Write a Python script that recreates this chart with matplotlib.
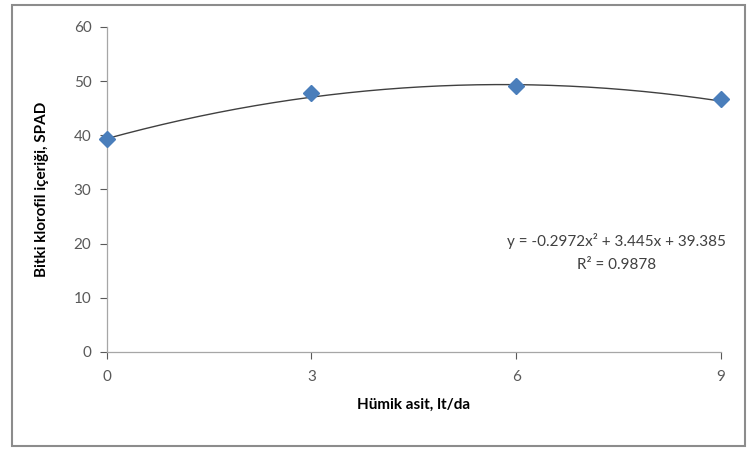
import numpy as np
import matplotlib
matplotlib.use("Agg")
import matplotlib.pyplot as plt
from matplotlib.patches import Rectangle

plt.rcParams["font.family"] = ["Lato", "DejaVu Sans"]

# data
humik = [0, 3, 6, 9]
spad = [39.3, 47.8, 49.1, 46.7]
# trendline coefficients shown on the chart (x^2, x, const)
coef = [-0.2972, 3.445, 39.385]
r2 = 0.9878
x_ticks = [0, 3, 6, 9]
y_ticks = [0, 10, 20, 30, 40, 50, 60]

fig = plt.figure(figsize=(7.47, 4.5), dpi=100)
ax = fig.add_axes([0.143, 0.218, 0.822, 0.722])

# outer chart frame like excel
fig.patches.append(Rectangle((0.016, 0.01), 0.981, 0.98, transform=fig.transFigure,
                             fill=False, edgecolor="#8c8c8c", linewidth=1.5))

xs = np.linspace(humik[0], humik[-1], 200)
ax.plot(xs, np.polyval(coef, xs), color="#404040", linewidth=1.0, zorder=2)
ax.plot(humik, spad, linestyle="none", marker="D", markersize=8.5,
        color="#4a7ebb", zorder=3, clip_on=False)

ax.set_xlim(0, 9)
ax.set_ylim(0, 60)
ax.set_xticks(x_ticks)
ax.set_yticks(y_ticks)
ax.tick_params(colors="#595959", labelsize=11, length=5, width=0.8, direction="out")
ax.tick_params(axis="x", pad=8)
ax.tick_params(axis="y", pad=6)
for s in ["top", "right"]:
    ax.spines[s].set_visible(False)
for s in ["left", "bottom"]:
    ax.spines[s].set_color("#a6a6a6")
    ax.spines[s].set_linewidth(0.9)

ax.set_xlabel("Hümik asit, lt/da", fontsize=11, fontweight="bold", labelpad=10)
ax.set_ylabel("Bitki klorofil içeriği, SPAD", fontsize=11, fontweight="bold", labelpad=18)

ax.text(0.83, 0.365, "y = -0.2972x² + 3.445x + 39.385\nR² = %.4f" % r2,
        transform=ax.transAxes, ha="center", va="top", fontsize=11,
        color="#404040", linespacing=1.8)

plt.savefig("out.png", dpi=100)
